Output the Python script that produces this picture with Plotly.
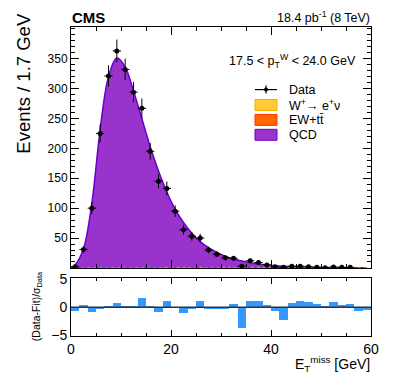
import plotly.graph_objects as go

# ---------------- data ----------------
bin_width = 60.0 / 36
bin_centers = [bin_width * (i + 0.5) for i in range(36)]

data_counts = [2, 31, 100, 225, 321, 363, 332, 294, 267, 195, 145, 133, 95, 64, 53, 50,
               30, 23, 17, 16, 3, 12, 9, 5, 2, 1, 3, 3, 2, 1, 0.5, 1.5, 1, 1, None, None]
data_errors = [1.4, 5.6, 10, 15, 17.9, 19, 18.2, 17.1, 16.3, 14, 12, 11.5, 9.7, 8, 7.3, 7.1,
               5.5, 4.8, 4.1, 4, 1.7, 3.5, 3, 2.2, 1.4, 1, 1.7, 1.7, 1.4, 1, 0.7, 1.2, 1, 1, 0, 0]

fit_x = [0.0] + bin_centers
fit_qcd = [0, 5, 32, 108, 232, 320, 351, 336, 296, 250, 203, 162, 127, 98, 76, 58, 44, 34, 26,
           19.5, 15, 11.5, 8.7, 6.6, 5, 3.8, 2.9, 2.2, 1.7, 1.3, 1.0, 0.8, 0.6, 0.5, 0.4, 0.3, 0.25]

ew_ttbar = [0, 0, 0, 0, 0, 0, 0, 0, 0, 0, 0, 1, 1, 1, 0, 1, 0, 0, 1, 0, 1, 1, 1, 1, 1,
            0, 0, 0, 0, 0, 0, 0, 0, 0, 1, 1]

residuals = [-0.76, 0.2, -0.94, -0.47, 0.1, 0.64, -0.3, 0.05, 1.52, -0.3, -0.94, 1.05, 0.0,
             -1.1, -0.4, 1.0, -0.47, -0.4, -0.45, 0.53, -3.75, 0.99, 1.1, 0.4, -0.7, -2.4,
             0.64, 1.05, 0.94, 0.53, -0.23, 0.94, 0.4, 0.53, -0.76, -0.6]

x_tick_labels = ["0", "20", "40", "60"]
y_tick_values = [50, 100, 150, 200, 250, 300, 350]

# ---------------- figure ----------------
# page body has an 8 px margin: work in window coordinates, shift by OFF
OFF = 8
WIN_W, WIN_H = 399, 387
W, H = WIN_W - 2 * OFF, WIN_H - 2 * OFF
FRAME_L, FRAME_R, FRAME_T, FRAME_B = 71, 371, 25, 336
ML, MT = FRAME_L - OFF, FRAME_T - OFF
MR = W - (FRAME_R - OFF)
MB = H - (FRAME_B - OFF)
PW, PH = W - ML - MR, H - MT - MB


def px(x):
    return (x - OFF - ML) / PW


def py(y):
    return (H - MB - (y - OFF)) / PH


FONT = "Liberation Sans, Arial, sans-serif"
QCD_FILL = "#9933cc"
QCD_LINE = "#6600cc"
W_FILL = "#ffcc33"
W_LINE = "#ffaa00"
EW_FILL = "#ff6600"
EW_LINE = "#ff3300"
RES_COL = "#3399ff"

fig = go.Figure()

fig.add_trace(go.Scatter(
    x=fit_x, y=fit_qcd, mode="lines", line=dict(color=QCD_LINE, width=1.5, shape="spline"),
    fill="tozeroy", fillcolor=QCD_FILL, xaxis="x", yaxis="y", showlegend=False, hoverinfo="skip"))

fig.add_trace(go.Scatter(
    x=bin_centers, y=ew_ttbar, mode="lines", line=dict(color="#ff8800", width=1.2, dash="dot", shape="hvh"),
    xaxis="x", yaxis="y", showlegend=False, hoverinfo="skip"))

fig.add_trace(go.Scatter(
    x=bin_centers, y=data_counts, mode="markers",
    marker=dict(color="black", size=5),
    error_y=dict(type="data", array=data_errors, color="black", thickness=1, width=0),
    error_x=dict(type="constant", value=bin_width / 2, color="black", thickness=1, width=0),
    xaxis="x", yaxis="y", showlegend=False))

fig.add_trace(go.Bar(
    x=bin_centers, y=residuals, width=bin_width, marker=dict(color=RES_COL, line=dict(width=0)),
    xaxis="x2", yaxis="y2", showlegend=False))

main_bottom = py(267.5)
res_top = py(278)

axis_common = dict(showline=True, linecolor="black", linewidth=1, mirror="ticks",
                   ticks="inside", tickcolor="black", showgrid=False, zeroline=False)

fig.update_layout(
    width=W, height=H, margin=dict(l=ML, r=MR, t=MT, b=MB),
    paper_bgcolor="white", plot_bgcolor="white",
    font=dict(family=FONT, color="black"),
    bargap=0,
    xaxis=dict(domain=[0, 1], range=[0, 60], anchor="y", showticklabels=False,
               tickvals=[0, 20, 40, 60], ticklen=8,
               minor=dict(dtick=5, ticklen=4, ticks="inside", tickcolor="black"), **axis_common),
    yaxis=dict(domain=[main_bottom, 1], range=[0, 403], anchor="x",
               tickvals=y_tick_values, ticklen=8, tickfont=dict(size=12),
               minor=dict(dtick=10, ticklen=4, ticks="inside", tickcolor="black"), **axis_common),
    xaxis2=dict(domain=[0, 1], range=[0, 60], anchor="y2", matches="x",
                tickvals=[0, 20, 40, 60], ticktext=x_tick_labels, ticklen=6,
                tickfont=dict(size=14), ticklabelstandoff=0,
                minor=dict(dtick=5, ticklen=3, ticks="inside", tickcolor="black"), **axis_common),
    yaxis2=dict(domain=[0, res_top], range=[-5.15, 5.15], anchor="x2",
                tickvals=[-5, 0, 5], ticklen=6, tickfont=dict(size=14), **axis_common),
)

# zero line in ratio panel
fig.add_shape(type="line", xref="x2 domain", yref="y2", x0=0, x1=1, y0=0, y1=0,
              line=dict(color="#333333", width=1.5), layer="above")

# ---------------- text ----------------
def ann(text, x, y, size, xanchor="left", yanchor="middle", angle=0, bold=False):
    if bold:
        text = "<b>" + text + "</b>"
    fig.add_annotation(text=text, xref="paper", yref="paper", x=px(x), y=py(y),
                       xanchor=xanchor, yanchor=yanchor, textangle=angle, showarrow=False,
                       font=dict(family=FONT, size=size, color="black"))


ann("CMS", 70, 15, 15, bold=True)
ann("18.4 pb<sup>-1</sup> (8 TeV)", 372, 15, 12.5, xanchor="right")
ann("17.5 &lt; p<sub>T</sub><sup>W</sup> &lt; 24.0 GeV", 358, 59, 12.5, xanchor="right")
ann("Events / 1.7 GeV", 24, 82, 18.5, xanchor="center", yanchor="middle", angle=-90)
ann("(Data-Fit)/σ<sub>Data</sub>", 37, 306, 10.5, xanchor="center", angle=-90)
ann("E<sub>T</sub><sup>miss</sup> [GeV]", 372, 364, 14, xanchor="right")

# legend
leg_x0, leg_x1, txt_x = 255, 277, 287
rows = [88, 103.5, 118.5, 133.5]
ann("Data", txt_x, rows[0], 12.5)
ann("W<sup>+</sup>→ e<sup>+</sup>ν", txt_x, rows[1], 12.5)
ann("EW+tt̄", txt_x, rows[2], 12.5)
ann("QCD", txt_x, rows[3], 12.5)

fig.add_shape(type="line", xref="paper", yref="paper", x0=px(leg_x0), x1=px(leg_x1),
              y0=py(rows[0]), y1=py(rows[0]), line=dict(color="black", width=1.2))
fig.add_shape(type="line", xref="paper", yref="paper", x0=px(266), x1=px(266),
              y0=py(rows[0] - 4), y1=py(rows[0] + 4), line=dict(color="black", width=1.2))
fig.add_shape(type="circle", xref="paper", yref="paper", x0=px(264), x1=px(268),
              y0=py(rows[0] - 2), y1=py(rows[0] + 2), fillcolor="black", line=dict(width=0))
for r, fc, lc in [(rows[1], W_FILL, W_LINE), (rows[2], EW_FILL, EW_LINE), (rows[3], QCD_FILL, QCD_LINE)]:
    fig.add_shape(type="rect", xref="paper", yref="paper", x0=px(leg_x0), x1=px(leg_x1),
                  y0=py(r - 5.5), y1=py(r + 5.5), fillcolor=fc, line=dict(color=lc, width=1))

fig.write_html("out.html")
